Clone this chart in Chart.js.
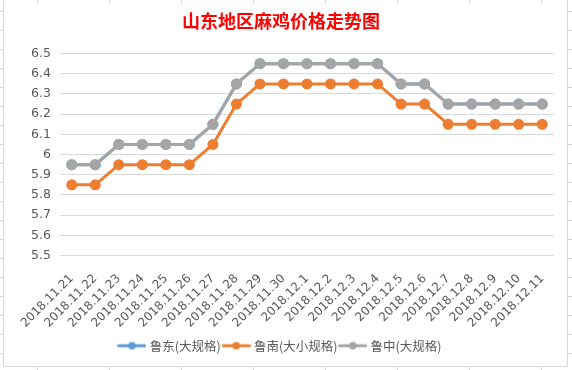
<!DOCTYPE html>
<html><head><meta charset="utf-8">
<script src="https://cdn.jsdelivr.net/npm/chart.js@4.4.0/dist/chart.umd.min.js"></script>
<style>html,body{margin:0;padding:0;background:#fff;}#wrap{position:absolute;left:0;top:0;width:572px;height:370px;}</style>
</head><body><div id="wrap"><canvas id="c" width="572" height="370"></canvas></div>
<script>
const titleText = '山东地区麻鸡价格走势图';
const categories = ['2018.11.21','2018.11.22','2018.11.23','2018.11.24','2018.11.25','2018.11.26','2018.11.27','2018.11.28','2018.11.29','2018.11.30','2018.12.1','2018.12.2','2018.12.3','2018.12.4','2018.12.5','2018.12.6','2018.12.7','2018.12.8','2018.12.9','2018.12.10','2018.12.11'];
const seriesNames = ['鲁东(大规格)','鲁南(大小规格)','鲁中(大规格)'];
const ludong = [5.95,5.95,6.05,6.05,6.05,6.05,6.15,6.35,6.45,6.45,6.45,6.45,6.45,6.45,6.35,6.35,6.25,6.25,6.25,6.25,6.25];
const lunan = [5.85,5.85,5.95,5.95,5.95,5.95,6.05,6.25,6.35,6.35,6.35,6.35,6.35,6.35,6.25,6.25,6.15,6.15,6.15,6.15,6.15];
const luzhong = [5.95,5.95,6.05,6.05,6.05,6.05,6.15,6.35,6.45,6.45,6.45,6.45,6.45,6.45,6.35,6.35,6.25,6.25,6.25,6.25,6.25];
const yMin = 5.5, yMax = 6.5, yStep = 0.1;
const colors = ['#5B9BD5','#ED7D31','#A5A5A5'];

function legendIcon(color){
  const c = document.createElement('canvas');
  c.width = 29; c.height = 10;
  const g = c.getContext('2d');
  g.strokeStyle = color; g.lineWidth = 3; g.lineCap = 'round';
  g.beginPath(); g.moveTo(1.5,5); g.lineTo(27.5,5); g.stroke();
  g.fillStyle = color; g.beginPath(); g.arc(14.5,5,3.8,0,Math.PI*2); g.fill();
  return c;
}

const sheetBg = {
  id:'sheetBg',
  beforeDraw(chart){
    const ctx = chart.ctx;
    ctx.save();
    ctx.fillStyle = '#ffffff';
    ctx.fillRect(0,0,572,370);
    ctx.strokeStyle = '#d4d4d4'; ctx.lineWidth = 1;
    ctx.beginPath();
    for (const x of [37.5,109.5,181.5,253.5,325.5,397.5,469.5,541.5]) { ctx.moveTo(x,0); ctx.lineTo(x,3); ctx.moveTo(x,367); ctx.lineTo(x,370); }
    for (let y = 11.5; y < 370; y += 19) { ctx.moveTo(0,y); ctx.lineTo(3,y); ctx.moveTo(568,y); ctx.lineTo(572,y); }
    ctx.stroke();
    ctx.strokeStyle = '#d9d9d9';
    ctx.beginPath();
    ctx.moveTo(3.5,0); ctx.lineTo(3.5,366.5); ctx.lineTo(567.5,366.5); ctx.lineTo(567.5,0);
    ctx.stroke();
    ctx.restore();
  }
};

const datasets = [ludong, lunan, luzhong].map((d,i)=>({
  label: seriesNames[i], data: d,
  borderColor: colors[i], backgroundColor: colors[i],
  borderWidth: 3, pointRadius: 4, pointHoverRadius: 4,
  pointStyle: 'circle', tension: 0, order: 3 - i
}));

new Chart(document.getElementById('c'), {
  type: 'line',
  data: { labels: categories, datasets },
  plugins: [sheetBg],
  options: {
    responsive: false, animation: false, devicePixelRatio: 1,
    layout: { padding: { left: 8, right: 18, top: 9, bottom: 8 } },
    plugins: {
      title: { display: true, text: titleText, color: '#FF0000',
        font: { family: '"Noto Sans CJK SC"', size: 18, weight: 'bold' }, padding: { top: 1, bottom: 22 } },
      legend: { position: 'bottom',
        labels: { color: '#595959', font: { family: '"Noto Sans CJK SC"', size: 12.5 }, padding: 4,
          usePointStyle: true, pointStyleWidth: 23,
          generateLabels(chart){
            return chart.data.datasets.map((ds,i)=>({ text: ds.label, fillStyle: ds.borderColor, strokeStyle: ds.borderColor,
              pointStyle: legendIcon(ds.borderColor), hidden: false, datasetIndex: i, lineWidth: 0, fontColor: '#595959' }));
          } } },
      tooltip: { enabled: false }
    },
    scales: {
      x: { offset: true, grid: { display: false }, border: { display: false },
        ticks: { color: '#595959', minRotation: 45, maxRotation: 45, autoSkip: false, padding: 8,
          font: { family: '"DejaVu Sans"', size: 12 } },
        afterFit(s){ s.height = 80; } },
      y: { min: yMin, max: yMax, grid: { color: '#d9d9d9', drawTicks: false }, border: { display: false },
        ticks: { stepSize: yStep, color: '#595959', padding: 9, font: { family: '"DejaVu Sans"', size: 12.5 },
          callback: v => String(Number(v.toFixed(1))) },
        afterFit(s){ s.width = 52; } }
    }
  }
});
</script></body></html>
